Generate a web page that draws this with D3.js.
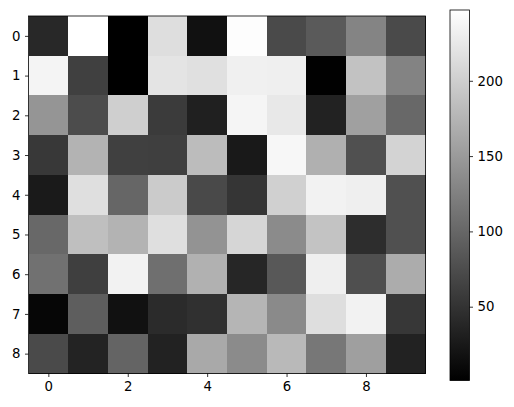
<!DOCTYPE html>
<html><head><meta charset="utf-8">
<script src="https://cdn.jsdelivr.net/npm/d3@7"></script>
<style>
html,body{margin:0;padding:0;background:#fff;}
text{font-family:"DejaVu Sans",sans-serif;}
</style></head>
<body><svg id="c" width="514" height="407"></svg>
<script>
const rowLabels = [0,1,2,3,4,5,6,7,8];
const colLabels = [0,1,2,3,4,5,6,7,8,9];
const xTickValues = [0,2,4,6,8];
const yTickValues = [0,1,2,3,4,5,6,7,8];
const cbarTicks = [50,100,150,200];
const row0 = [40,247,1,215,17,245,72,88,128,72];
const row1 = [236,63,1,221,217,233,232,2,188,127];
const row2 = [145,74,201,58,32,237,225,34,155,101];
const row3 = [55,174,63,62,182,25,239,171,78,205];
const row4 = [26,216,99,197,71,52,202,234,232,78];
const row5 = [101,185,174,216,143,207,135,189,44,78];
const row6 = [110,62,234,108,172,38,86,232,77,167];
const row7 = [7,92,17,42,47,176,134,215,234,54];
const row8 = [72,35,97,34,164,135,179,116,154,34];
const values = [row0,row1,row2,row3,row4,row5,row6,row7,row8];

const svg = d3.select("#c");
const L = 28.5, R = 425.5, T = 16, B = 373.5;
const x = d3.scaleLinear().domain([-0.5, colLabels.length-0.5]).range([L,R]);
const y = d3.scaleLinear().domain([-0.5, rowLabels.length-0.5]).range([T,B]);
const flat = values.flat();
const vmin = d3.min(flat), vmax = d3.max(flat);
const color = d3.scaleLinear().domain([vmin,vmax]).range(["#000","#fff"]);

const cells = [];
values.forEach((r,i)=>r.forEach((v,j)=>cells.push({i,j,v})));
svg.append("g").selectAll("rect").data(cells).join("rect")
  .attr("x",d=>x(d.j-0.5)).attr("y",d=>y(d.i-0.5))
  .attr("width",x(0.5)-x(-0.5)+0.3).attr("height",y(0.5)-y(-0.5)+0.3)
  .attr("fill",d=>color(d.v)).attr("shape-rendering","crispEdges");

svg.append("rect").attr("x",L).attr("y",T).attr("width",R-L).attr("height",B-T)
  .attr("fill","none").attr("stroke","#000").attr("stroke-width",0.8);

function styleAxis(g){
  g.select(".domain").remove();
  g.selectAll(".tick line").attr("stroke","#000").attr("stroke-width",0.8);
  g.selectAll(".tick text").attr("font-size","13.3px").attr("fill","#000")
   .attr("font-family","DejaVu Sans, sans-serif");
}
svg.append("g").attr("transform",`translate(0,${B})`)
  .call(d3.axisBottom(x).tickValues(xTickValues).tickSize(3.5).tickPadding(4.5).tickFormat(d3.format("d")))
  .call(styleAxis);
svg.append("g").attr("transform",`translate(${L},0)`)
  .call(d3.axisLeft(y).tickValues(yTickValues).tickSize(3.5).tickPadding(4.5).tickFormat(d3.format("d")))
  .call(styleAxis);

// colorbar
const cbL = 450, cbR = 469.5, cbT = 10, cbB = 380.5;
const cy = d3.scaleLinear().domain([vmin,vmax]).range([cbB,cbT]);
const defs = svg.append("defs");
const grad = defs.append("linearGradient").attr("id","g").attr("x1",0).attr("y1",1).attr("x2",0).attr("y2",0);
grad.append("stop").attr("offset","0%").attr("stop-color",color(vmin));
grad.append("stop").attr("offset","100%").attr("stop-color",color(vmax));
svg.append("rect").attr("x",cbL).attr("y",cbT).attr("width",cbR-cbL).attr("height",cbB-cbT)
  .attr("fill","url(#g)").attr("stroke","#000").attr("stroke-width",0.8);
svg.append("g").attr("transform",`translate(${cbR},0)`)
  .call(d3.axisRight(cy).tickValues(cbarTicks).tickSize(3.5).tickPadding(4.5).tickFormat(d3.format("d")))
  .call(styleAxis);
</script></body></html>
